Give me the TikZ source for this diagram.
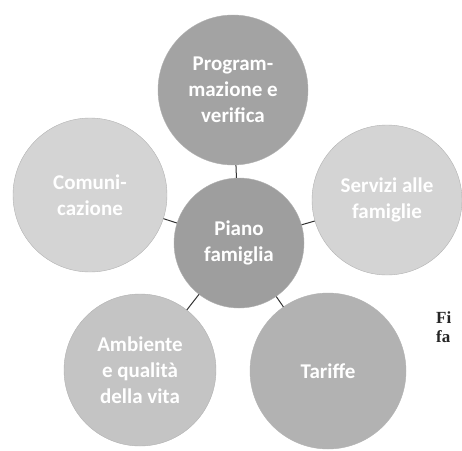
\documentclass[tikz,border=0pt]{standalone}
\usepackage{fontspec}
\setmainfont{Carlito}
\newfontfamily\capfont{Liberation Serif}
\begin{document}
\begin{tikzpicture}[x=1pt,y=-1pt,
  bubble/.style={circle,minimum size=#1,inner sep=0pt,draw=gray!60,line width=0.4pt,
    text=white,align=center,font=\bfseries\fontsize{21}{26}\selectfont},
  link/.style={draw=black!80,line width=1pt},
  captxt/.style={anchor=west,inner sep=0pt,font=\capfont\bfseries\fontsize{17}{17}\selectfont,text=black!85}]
\useasboundingbox (0,0) rectangle (462,450);
\node[bubble=150pt,fill=black!36] (top) at (233,90) {Program-\\mazione e\\verifica};
\node[bubble=154pt,fill=black!17] (left) at (90,195) {Comuni-\\cazione};
\node[bubble=150pt,fill=black!17] (right) at (387,200) {Servizi alle\\famiglie};
\node[bubble=152pt,fill=black!23] (bl) at (140,370) {Ambiente\\e qualità\\della vita};
\node[bubble=156pt,fill=black!30] (br) at (328,371) {Tariffe};
\node[bubble=130pt,fill=black!38] (c) at (239,243) {Piano\\famiglia};
\draw[link] (c) -- (top);
\draw[link] (c) -- (left);
\draw[link] (c) -- (right);
\draw[link] (c) -- (bl);
\draw[link] (c) -- (br);
\node[captxt] (cap1) at (436,318) {Fi};
\node[captxt] (cap2) at (436,337) {fa};
\end{tikzpicture}
\end{document}
